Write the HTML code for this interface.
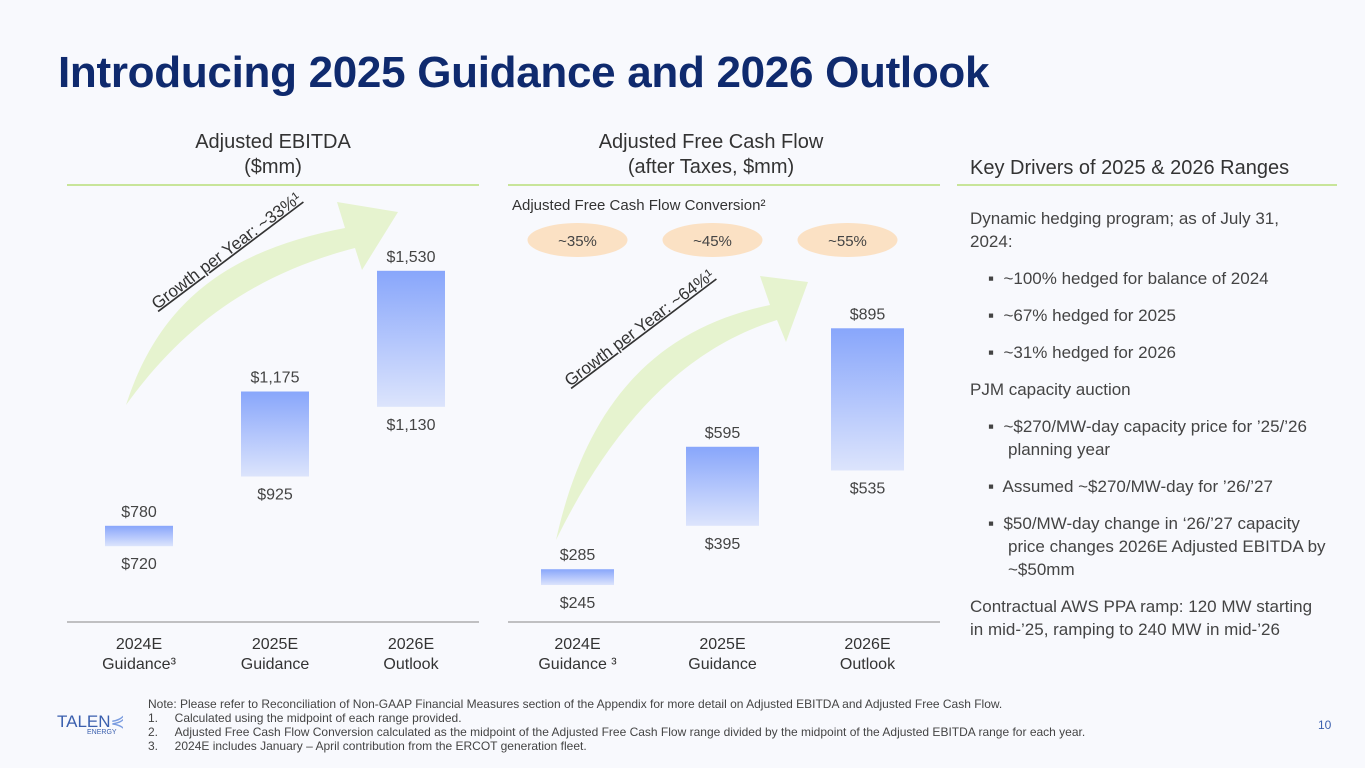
<!DOCTYPE html>
<html><head><meta charset="utf-8"><style>
body{margin:0;width:1365px;height:768px;background:#f8f9fd;font-family:"Liberation Sans",sans-serif;overflow:hidden;position:relative}
.t{position:absolute;margin:0}
</style></head><body>
<h1 class="t" style="left:58px;top:48px;font-size:44px;font-weight:900;color:#0f2a6e;letter-spacing:-0.3px">Introducing 2025 Guidance and 2026 Outlook</h1>
<svg id="c" width="1365" height="768" style="position:absolute;left:0;top:0">
<defs><linearGradient id="g" x1="0" y1="0" x2="0" y2="1"><stop offset="0" stop-color="#88a6fb"/><stop offset="1" stop-color="#dce4fc"/></linearGradient></defs>
<g font-family="Liberation Sans,sans-serif" fill="#333">
<text x="273" y="148" text-anchor="middle" font-size="20">Adjusted EBITDA</text>
<text x="273" y="173" text-anchor="middle" font-size="20">($mm)</text>
<text x="711" y="148" text-anchor="middle" font-size="20">Adjusted Free Cash Flow</text>
<text x="711" y="173" text-anchor="middle" font-size="20">(after Taxes, $mm)</text>
<text x="970" y="174" font-size="20">Key Drivers of 2025 &amp; 2026 Ranges</text>
</g>
<line x1="67" x2="479" y1="185" y2="185" stroke="#c8e59a" stroke-width="2"/>
<line x1="508" x2="940" y1="185" y2="185" stroke="#c8e59a" stroke-width="2"/>
<line x1="957" x2="1337" y1="185" y2="185" stroke="#c8e59a" stroke-width="2"/>
<line x1="67" x2="479" y1="622" y2="622" stroke="#888" stroke-width="1"/>
<line x1="508" x2="940" y1="622" y2="622" stroke="#888" stroke-width="1"/>
<path d="M126 405 C160 300 230 250 345 228 L337 202 L398 212 L362 270 L355 248 C250 275 180 330 126 405Z" fill="#e6f3cf"/>
<path d="M556 540 C585 410 650 330 770 305 L760 276 L808 282 L786 342 L777 320 C680 350 610 430 556 540Z" fill="#e6f3cf"/>
<text transform="translate(157,310) rotate(-37)" font-size="17" fill="#333" text-decoration="underline" font-family="Liberation Sans,sans-serif">Growth per Year: ~33%¹</text>
<text transform="translate(570,387) rotate(-37)" font-size="17" fill="#333" text-decoration="underline" font-family="Liberation Sans,sans-serif">Growth per Year: ~64%¹</text>
<text x="512" y="210" font-size="15" fill="#333" font-family="Liberation Sans,sans-serif">Adjusted Free Cash Flow Conversion²</text>
<g id="bars"></g>
</svg>
<div class="t" style="left:970px;top:207px;width:365px;font-size:17px;line-height:23px;color:#444">
<div style="width:330px">Dynamic hedging program; as of July 31, 2024:</div>
<div style="margin-top:14px;padding-left:18px">▪&nbsp; ~100% hedged for balance of 2024</div>
<div style="margin-top:14px;padding-left:18px">▪&nbsp; ~67% hedged for 2025</div>
<div style="margin-top:14px;padding-left:18px">▪&nbsp; ~31% hedged for 2026</div>
<div style="margin-top:14px">PJM capacity auction</div>
<div style="margin-top:14px;padding-left:38px;text-indent:-20px">▪&nbsp; ~$270/MW-day capacity price for ’25/’26 planning year</div>
<div style="margin-top:14px;padding-left:18px">▪&nbsp; Assumed ~$270/MW-day for ’26/’27</div>
<div style="margin-top:14px;padding-left:38px;text-indent:-20px">▪&nbsp; $50/MW-day change in ‘26/’27 capacity price changes 2026E Adjusted EBITDA by ~$50mm</div>
<div style="margin-top:14px;width:350px">Contractual AWS PPA ramp: 120 MW starting in mid-’25, ramping to 240 MW in mid-’26</div>
</div>
<div class="t" style="left:57px;top:712px;color:#3a5fae;font-size:17px">TALEN<span style="color:#7a9ce0">⋞</span><div style="font-size:7px;margin-left:30px;margin-top:-3px">ENERGY</div></div>
<div class="t" style="left:148px;top:697px;font-size:12px;line-height:14px;color:#444">
Note: Please refer to Reconciliation of Non-GAAP Financial Measures section of the Appendix for more detail on Adjusted EBITDA and Adjusted Free Cash Flow.<br>
1.&nbsp;&nbsp;&nbsp;&nbsp;&nbsp;Calculated using the midpoint of each range provided.<br>
2.&nbsp;&nbsp;&nbsp;&nbsp;&nbsp;Adjusted Free Cash Flow Conversion calculated as the midpoint of the Adjusted Free Cash Flow range divided by the midpoint of the Adjusted EBITDA range for each year.<br>
3.&nbsp;&nbsp;&nbsp;&nbsp;&nbsp;2024E includes January – April contribution from the ERCOT generation fleet.</div>
<div class="t" style="left:1318px;top:718px;font-size:12px;color:#3a5fae">10</div>
<script>
const ebitdaCats=["2024E|Guidance³","2025E|Guidance","2026E|Outlook"];
const ebitdaLow=[720,925,1130];
const ebitdaHigh=[780,1175,1530];
const fcfCats=["2024E|Guidance ³","2025E|Guidance","2026E|Outlook"];
const fcfLow=[245,395,535];
const fcfHigh=[285,595,895];
const conversion=["~35%","~45%","~55%"];
const NS="http://www.w3.org/2000/svg";
const g=document.getElementById('bars');
function mk(t,a,txt){const e=document.createElementNS(NS,t);for(const k in a)e.setAttribute(k,a[k]);if(txt!=null)e.textContent=txt;g.appendChild(e);return e;}
const yE=v=>791-0.34*v, yF=v=>681.8-0.395*v;
const fmt=v=>'$'+v.toLocaleString('en-US');
function draw(cats,lo,hi,y,x0,step,w,prefix){
 cats.forEach((c,i)=>{
  const cx=x0+i*step;
  const r=mk('rect',{x:cx-w/2,y:y(hi[i]),width:w,height:y(lo[i])-y(hi[i]),fill:'url(#g)'});
  
  
  const a={x:cx,'text-anchor':'middle','font-size':16,fill:'#444','font-family':'Liberation Sans,sans-serif'};
  const t1=mk('text',Object.assign({},a,{y:y(hi[i])-9}),fmt(hi[i]));
  
  
  const t2=mk('text',Object.assign({},a,{y:y(lo[i])+23}),fmt(lo[i]));
  
  
  const p=c.split('|');
  const l1=mk('text',Object.assign({},a,{y:649,fill:'#333'}),p[0]);
  
  
  const l2=mk('text',Object.assign({},a,{y:669,fill:'#333'}),p[1]);
  
  
 });
}
draw(ebitdaCats,ebitdaLow,ebitdaHigh,yE,139,136,68,'ebitda');
draw(fcfCats,fcfLow,fcfHigh,yF,577.5,145,73,'fcf');
conversion.forEach((c,i)=>{
 const cx=577.5+i*135;
 const e=mk('ellipse',{cx:cx,cy:240,rx:50,ry:17,fill:'#fbe1c4'});
 
 
 const t=mk('text',{x:cx,y:246,'text-anchor':'middle','font-size':15,fill:'#444','font-family':'Liberation Sans,sans-serif'},c);
 
 
});
</script>
</body></html>
